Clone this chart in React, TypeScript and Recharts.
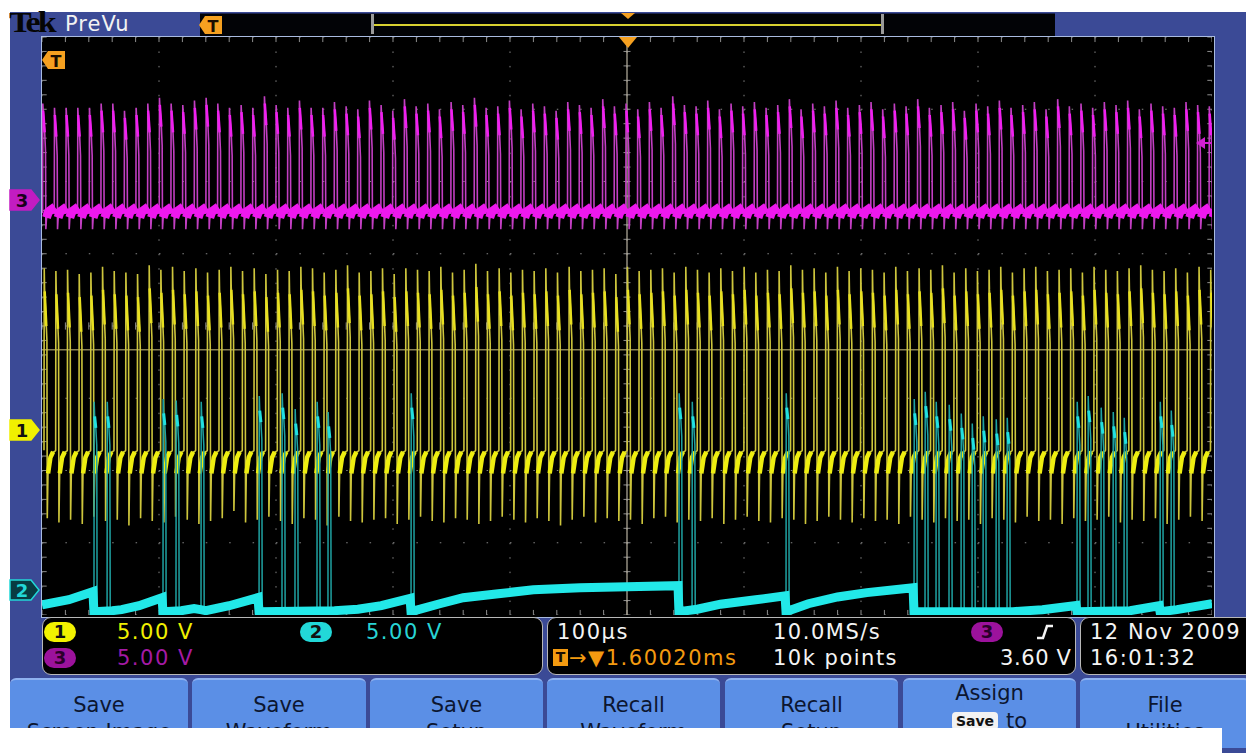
import React from 'react';
import { LineChart, Line, XAxis, YAxis, CartesianGrid, ReferenceLine } from 'recharts';

// time base: 100 µs/div, 10 divisions; vertical: 8 divisions, 5 V/div on every channel
const TIME_TICKS = [0, 100, 200, 300, 400, 500, 600, 700, 800, 900, 1000];
const DIV_TICKS = [-4, -3, -2, -1, 0, 1, 2, 3, 4];
const VOLTS_PER_DIV = 5;

// ground markers (divisions from screen centre)
const CH1_OFFSET = -1.44;
const CH2_OFFSET = -3.65;
const CH3_OFFSET = 1.74;

// switching pulses (ch1 and ch3 run on the same ~100 kHz clock)
const FIRST_PULSE_US = 1.7;
const PULSE_PERIOD_US = 9.97;

const CH1_PEAK_V = [
  11.2, 11.0, 11.1, 10.8, 10.9, 11.3, 11.0, 10.9, 10.8, 11.4,
  11.1, 11.3, 11.0, 11.2, 10.9, 11.1, 11.3, 11.0, 11.2, 10.8,
  11.1, 11.0, 11.3, 11.2, 10.9, 11.1, 11.4, 10.9, 11.0, 11.2,
  10.8, 11.2, 11.1, 11.0, 11.3, 10.9, 11.1, 11.5, 11.0, 11.2,
  10.9, 11.1, 11.0, 11.2, 10.9, 11.3, 11.0, 11.1, 11.2, 10.8,
  11.3, 11.0, 11.1, 11.2, 10.9, 11.3, 11.1, 10.9, 11.2, 11.0,
  11.3, 10.9, 11.1, 11.0, 11.4, 11.1, 11.2, 10.9, 11.3, 11.0,
  11.2, 11.1, 10.9, 11.3, 11.0, 11.2, 11.1, 11.4, 10.9, 11.2,
  11.0, 11.1, 11.3, 10.9, 11.2, 11.3, 11.0, 11.1, 11.2, 10.9,
  11.3, 11.1, 11.0, 11.2, 11.4, 11.1, 11.0, 11.2, 10.9, 11.3, 11.1,
];

const CH1_DIP_V = [
  -6.1, -6.4, -6.2, -6.5, -6.0, -6.3, -6.2, -6.6, -6.1, -6.3,
  -6.4, -6.0, -6.2, -6.5, -6.3, -6.1, -5.6, -6.4, -6.2, -6.0,
  -6.3, -6.5, -6.1, -6.2, -6.6, -6.0, -6.3, -6.4, -6.2, -6.1,
  -6.5, -6.2, -6.0, -6.3, -6.4, -6.1, -6.2, -6.5, -6.3, -6.0,
  -6.2, -6.4, -6.1, -6.3, -6.6, -6.2, -6.0, -6.4, -6.1, -6.3,
  -6.2, -6.5, -6.1, -6.0, -6.4, -6.2, -6.3, -6.1, -6.5, -6.2,
  -6.0, -6.3, -6.4, -6.1, -6.2, -6.5, -6.3, -6.0, -6.2, -6.4,
  -6.1, -6.3, -6.2, -6.5, -6.0, -6.2, -6.4, -6.1, -6.3, -6.2,
  -6.5, -6.1, -6.2, -6.4, -6.0, -6.3, -6.2, -6.5, -6.1, -6.3,
  -6.2, -6.0, -6.4, -6.2, -6.3, -6.1, -6.5, -6.2, -6.0, -6.3, -6.2,
];

const CH3_PEAK_V = [
  6.7, 6.4, 6.4, 6.4, 6.4, 6.7, 6.7, 6.2, 6.4, 6.7,
  7.1, 6.7, 6.6, 6.9, 7.1, 6.7, 6.4, 6.6, 6.4, 7.2,
  6.6, 6.4, 6.9, 6.4, 6.4, 6.8, 6.5, 6.3, 6.9, 6.6,
  6.2, 7.0, 6.5, 6.7, 6.3, 6.8, 6.6, 7.1, 6.4, 6.5,
  6.9, 6.3, 6.7, 6.5, 6.2, 6.8, 6.6, 6.4, 7.0, 6.5,
  6.7, 6.3, 6.8, 6.4, 7.2, 6.6, 6.5, 6.9, 6.3, 6.7,
  6.5, 6.8, 6.4, 6.6, 7.0, 6.3, 6.7, 6.5, 6.9, 6.4,
  6.6, 6.8, 6.3, 6.7, 6.5, 7.0, 6.4, 6.6, 6.8, 6.2,
  6.7, 6.5, 6.9, 6.4, 6.6, 6.8, 6.3, 7.0, 6.5, 6.7,
  6.4, 6.8, 6.6, 6.9, 6.3, 6.7, 6.5, 6.4, 6.8, 6.6, 6.5,
];

// ch2: slow RC baseline (µs, V) and bursts of spikes (µs, peak V)
const CH2_BASE_T = [0, 23, 43.5, 44.4, 60, 68, 83, 102.6, 103.4, 119, 130, 135.5, 140, 160, 184.6, 185.5, 250, 270, 290, 314.6, 315.4, 340, 360, 390, 420, 460, 500, 543.6, 544.4, 560, 580, 610, 635.1, 635.9, 655, 680, 705, 744.5, 745.3, 830, 855, 883.8, 884.6, 930, 954.8, 955.6, 970, 1000];
const CH2_BASE_V = [-1.04, -0.69, -0.14, -1.52, -1.45, -1.38, -1.11, -0.55, -1.52, -1.45, -1.3, -1.38, -1.45, -1.11, -0.55, -1.52, -1.45, -1.35, -1.1, -0.6, -1.52, -0.97, -0.55, -0.28, 0.0, 0.14, 0.21, 0.28, -1.52, -1.35, -1.0, -0.7, -0.42, -1.52, -0.97, -0.5, -0.2, 0.14, -1.52, -1.52, -1.38, -1.1, -1.52, -1.45, -1.11, -1.52, -1.38, -0.97];
const CH2_SPIKE_T = [44.4, 55.6, 103.4, 114.5, 135.9, 185.5, 205.1, 216.2, 235, 244.4, 315.4, 544.4, 555.6, 635.9, 745.3, 754.7, 764.1, 775.2, 785.5, 794.9, 804.3, 815.4, 824.8, 884.6, 894, 905.1, 915.4, 924.8, 955.6, 965];
const CH2_SPIKE_V = [13.0, 13.0, 13.2, 13.1, 13.0, 13.4, 13.6, 12.5, 13.0, 12.3, 13.6, 13.6, 13.0, 13.6, 13.2, 13.7, 13.0, 12.8, 12.2, 11.5, 12.0, 11.8, 11.9, 13.0, 13.4, 12.6, 12.3, 11.9, 13.0, 12.4];

const CH2_LOW_V = -1.52;
const CURSOR_DIV = -0.33;

type Pt = { t: number; v: number | null };

const toDiv = (offset: number, volts: number) => offset + volts / VOLTS_PER_DIV;
const GAP = (t: number): Pt => ({ t, v: null });

function buildCh1() {
  const thin: Pt[] = [];
  const top: Pt[] = [];
  const base: Pt[] = [];
  CH1_PEAK_V.forEach((p, k) => {
    const t0 = FIRST_PULSE_US + k * PULSE_PERIOD_US;
    const d = CH1_DIP_V[k];
    const pts: [number, number][] = [
      [0, -1.4], [0.2, p], [0.5, p - 1.4], [2.1, p - 4.2], [2.5, p - 5.0], [2.8, d],
      [3.4, -3.1], [4.2, -2.5], [6.2, -1.6], [9.7, -1.45],
    ];
    pts.forEach(([dt, v]) => thin.push({ t: t0 + dt, v: toDiv(CH1_OFFSET, v) }));
    top.push({ t: t0 + 0.6, v: toDiv(CH1_OFFSET, p - 1.6) }, { t: t0 + 2.0, v: toDiv(CH1_OFFSET, p - 4.0) }, GAP(t0 + 2.3));
    base.push({ t: t0 + 3.5, v: toDiv(CH1_OFFSET, -3.0) }, { t: t0 + 5.5, v: toDiv(CH1_OFFSET, -1.9) }, { t: t0 + 7.8, v: toDiv(CH1_OFFSET, -1.5) }, GAP(t0 + 8.5));
  });
  return { thin, top, base };
}

function buildCh3() {
  const thin: Pt[] = [];
  const top: Pt[] = [];
  const base: Pt[] = [];
  CH3_PEAK_V.forEach((p, k) => {
    const t0 = FIRST_PULSE_US - 1.2 + k * PULSE_PERIOD_US;
    const pts: [number, number][] = [
      [0, -0.9], [0.2, p], [0.5, p - 0.5], [1.8, p - 2.0], [2.5, p - 3.3], [2.8, -2.0],
      [3.3, -1.3], [5.0, -0.8], [7.5, -0.6], [9.7, -0.9],
    ];
    pts.forEach(([dt, v]) => thin.push({ t: t0 + dt, v: toDiv(CH3_OFFSET, v) }));
    top.push({ t: t0 + 0.5, v: toDiv(CH3_OFFSET, p - 0.5) }, { t: t0 + 1.8, v: toDiv(CH3_OFFSET, p - 2.0) }, GAP(t0 + 2.0));
    base.push({ t: t0 + 3.3, v: toDiv(CH3_OFFSET, -1.2) }, { t: t0 + 5.0, v: toDiv(CH3_OFFSET, -0.8) }, { t: t0 + 7.5, v: toDiv(CH3_OFFSET, -0.65) }, { t: t0 + 9.5, v: toDiv(CH3_OFFSET, -0.9) }, GAP(t0 + 9.6));
  });
  return { thin, top, base };
}

function buildCh2() {
  const thin: Pt[] = CH2_BASE_T.map((t, i) => ({ t, v: toDiv(CH2_OFFSET, CH2_BASE_V[i]) }));
  const top: Pt[] = [];
  CH2_SPIKE_T.forEach((ts, i) => {
    const p = CH2_SPIKE_V[i];
    const pts: [number, number][] = [
      [0.01, CH2_LOW_V], [0.2, p], [0.6, p - 1.0], [1.6, p - 1.8], [2.4, p - 3.0], [2.7, CH2_LOW_V],
    ];
    pts.forEach(([dt, v]) => thin.push({ t: ts + dt, v: toDiv(CH2_OFFSET, v) }));
    top.push({ t: ts + 0.6, v: toDiv(CH2_OFFSET, p - 1.0) }, { t: ts + 1.6, v: toDiv(CH2_OFFSET, p - 1.8) }, GAP(ts + 1.8));
  });
  thin.sort((a, b) => a.t - b.t);
  const band: Pt[] = CH2_BASE_T.map((t, i) => ({ t, v: toDiv(CH2_OFFSET, CH2_BASE_V[i]) }));
  return { thin, top, band };
}

const ch1 = buildCh1();
const ch2 = buildCh2();
const ch3 = buildCh3();

// graticule minor ticks (5 per division), built from the major ticks
const MINOR_T = TIME_TICKS.slice(0, -1).flatMap((t) => [0, 20, 40, 60, 80].map((d) => t + d)).concat([1000]);
const MINOR_DIV = DIV_TICKS.slice(0, -1).flatMap((v) => [0, 0.2, 0.4, 0.6, 0.8].map((d) => v + d)).concat([4]);

const TICK_COLOR = '#8e8e8e';

const FONT = '"DejaVu Sans", Verdana, sans-serif';

const Pill = ({ x, y, bg, label, fg = '#111' }: { x: number; y: number; bg: string; label: string; fg?: string }) => (
  <div style={{ position: 'absolute', left: x, top: y, width: 32, height: 20, borderRadius: 10, background: bg, color: fg, fontSize: 18, fontWeight: 'bold', textAlign: 'center', lineHeight: '20px' }}>{label}</div>
);

const ChannelFlag = ({ y, fill, stroke, label, fg }: { y: number; fill: string; stroke: string; label: string; fg: string }) => (
  <svg style={{ position: 'absolute', left: 9, top: y - 11 }} width={32} height={22}>
    <polygon points="1,1 22,1 30,11 22,21 1,21" fill={fill} stroke={stroke} strokeWidth={1.5} />
    <text x={13} y={18} textAnchor="middle" fontSize={18} fontWeight="bold" fill={fg} fontFamily={FONT}>{label}</text>
  </svg>
);

const TFlag = ({ x, y }: { x: number; y: number }) => (
  <svg style={{ position: 'absolute', left: x, top: y }} width={24} height={22}>
    <polygon points="0,11 6,2 23,2 23,20 6,20" fill="#f5a020" />
    <text x={14} y={18} textAnchor="middle" fontSize={16} fontWeight="bold" fill="#1a0d00" fontFamily={FONT}>T</text>
  </svg>
);

const BUTTONS = [
  { x: 10, w: 178, l1: 'Save', l2: 'Screen Image' },
  { x: 192, w: 174, l1: 'Save', l2: 'Waveform' },
  { x: 370, w: 173, l1: 'Save', l2: 'Setup' },
  { x: 547, w: 173, l1: 'Recall', l2: 'Waveform' },
  { x: 725, w: 173, l1: 'Recall', l2: 'Setup' },
  { x: 903, w: 173, l1: 'Assign', l2: '' },
  { x: 1080, w: 170, l1: 'File', l2: 'Utilities' },
];

const Txt = ({ x, y, color, children, size = 21, ls = 1.5 }: { x: number; y: number; color: string; children: React.ReactNode; size?: number; ls?: number }) => (
  <div style={{ position: 'absolute', left: x, top: y, color, fontSize: size, letterSpacing: ls, whiteSpace: 'nowrap', lineHeight: '24px' }}>{children}</div>
);

export default function App() {
  return (
    <div style={{ position: 'relative', width: 1246, height: 753, background: '#ffffff', overflow: 'hidden', fontFamily: FONT }}>
      <style>{'body{margin:0}'}</style>
      {/* bezel */}
      <div style={{ position: 'absolute', left: 10, top: 12, width: 1236, height: 741, background: '#3b4a96' }} />
      <div style={{ position: 'absolute', left: 9, top: 12, fontFamily: '"Liberation Serif", serif', fontWeight: 'bold', fontSize: 34, letterSpacing: -3, color: '#050505', lineHeight: '26px', transform: 'scaleY(0.85)', transformOrigin: 'top left' }}>Tek</div>
      <div style={{ position: 'absolute', left: 65, top: 11, fontSize: 21, color: '#f2f2f2', letterSpacing: 1, lineHeight: '26px' }}>PreVu</div>

      {/* record preview bar */}
      <div style={{ position: 'absolute', left: 200, top: 13, width: 855, height: 22, background: '#020306', borderTop: '1px solid #1c2450' }} />
      <div style={{ position: 'absolute', left: 373, top: 24, width: 509, height: 2, background: '#d8d030' }} />
      <div style={{ position: 'absolute', left: 371, top: 14, width: 3, height: 20, background: '#9a9a9a' }} />
      <div style={{ position: 'absolute', left: 881, top: 14, width: 3, height: 20, background: '#9a9a9a' }} />
      <svg style={{ position: 'absolute', left: 621, top: 13 }} width={14} height={8}><polygon points="0,0 14,0 7,6" fill="#f5a020" /></svg>
      <TFlag x={199} y={14} />

      {/* graticule */}
      <div style={{ position: 'absolute', left: 41, top: 36, width: 1172, height: 580, border: '1px solid #a9bbe0', background: '#000' }} />
      <div style={{ position: 'absolute', left: 42, top: 37 }}>
        <LineChart width={1170} height={578} margin={{ top: 0, right: 0, bottom: 0, left: 0 }}>
          <XAxis type="number" dataKey="t" domain={[0, 1000]} ticks={TIME_TICKS} allowDataOverflow hide />
          <YAxis type="number" domain={[-4, 4]} ticks={DIV_TICKS} allowDataOverflow hide />
          <CartesianGrid horizontal={false} stroke="#858585" strokeDasharray="1.5 12.95" />
          <CartesianGrid vertical={false} stroke="#858585" strokeDasharray="1.5 21.9" />
          {MINOR_T.map((t) => (
            <ReferenceLine key={'ct' + t} segment={[{ x: t, y: -0.05 }, { x: t, y: 0.05 }]} stroke={TICK_COLOR} />
          ))}
          {MINOR_T.map((t) => (
            <ReferenceLine key={'tt' + t} segment={[{ x: t, y: 4 }, { x: t, y: 3.93 }]} stroke={TICK_COLOR} />
          ))}
          {MINOR_T.map((t) => (
            <ReferenceLine key={'bt' + t} segment={[{ x: t, y: -4 }, { x: t, y: -3.93 }]} stroke={TICK_COLOR} />
          ))}
          {MINOR_DIV.map((v) => (
            <ReferenceLine key={'cv' + v} segment={[{ x: 497, y: v }, { x: 503, y: v }]} stroke={TICK_COLOR} />
          ))}
          {MINOR_DIV.map((v) => (
            <ReferenceLine key={'lv' + v} segment={[{ x: 0, y: v }, { x: 4, y: v }]} stroke={TICK_COLOR} />
          ))}
          {MINOR_DIV.map((v) => (
            <ReferenceLine key={'rv' + v} segment={[{ x: 996, y: v }, { x: 1000, y: v }]} stroke={TICK_COLOR} />
          ))}
          <ReferenceLine y={CURSOR_DIV} stroke="#8a8255" strokeWidth={1.5} />
          <ReferenceLine x={500} stroke="#b9b2a2" strokeWidth={1.2} />

          <Line data={ch3.thin} dataKey="v" type="linear" dot={false} stroke="#c23ec2" strokeWidth={1.6} isAnimationActive={false} />
          <Line data={ch3.base} dataKey="v" type="linear" dot={false} stroke="#ee18ee" strokeWidth={9} isAnimationActive={false} />
          <Line data={ch3.top} dataKey="v" type="linear" dot={false} stroke="#f020f0" strokeWidth={2.5} isAnimationActive={false} />

          <Line data={ch1.thin} dataKey="v" type="linear" dot={false} stroke="#cdc53c" strokeWidth={1.6} isAnimationActive={false} />
          <Line data={ch1.base} dataKey="v" type="linear" dot={false} stroke="#eeee10" strokeWidth={4.5} isAnimationActive={false} />
          <Line data={ch1.top} dataKey="v" type="linear" dot={false} stroke="#e8e020" strokeWidth={2.5} isAnimationActive={false} />

          <Line data={ch2.thin} dataKey="v" type="linear" dot={false} stroke="#1fa2a2" strokeWidth={1.5} isAnimationActive={false} />
          <Line data={ch2.band} dataKey="v" type="linear" dot={false} stroke="#22e8e8" strokeWidth={9} isAnimationActive={false} />
          <Line data={ch2.top} dataKey="v" type="linear" dot={false} stroke="#22e0e0" strokeWidth={3} isAnimationActive={false} />
        </LineChart>
      </div>

      {/* trigger markers */}
      <TFlag x={42} y={49} />
      <svg style={{ position: 'absolute', left: 619, top: 37 }} width={18} height={12}><polygon points="0,0 18,0 9,11" fill="#f5a020" /></svg>
      <svg style={{ position: 'absolute', left: 1196, top: 137 }} width={16} height={12}>
        <polygon points="0,6 9,0 9,12" fill="#d020d0" />
        <rect x={8} y={5} width={8} height={2} fill="#d020d0" />
      </svg>

      {/* channel ground flags */}
      <ChannelFlag y={200} fill="#c21cc2" stroke="#c21cc2" label="3" fg="#1a001a" />
      <ChannelFlag y={430} fill="#f0f000" stroke="#f0f000" label="1" fg="#111" />
      <ChannelFlag y={590} fill="#083c42" stroke="#22d8d8" label="2" fg="#22d8d8" />

      {/* readouts */}
      <div style={{ position: 'absolute', left: 42, top: 617, width: 499, height: 56, background: '#000', border: '1.5px solid #b8b8b8', borderRadius: 9 }} />
      <div style={{ position: 'absolute', left: 547, top: 617, width: 527, height: 56, background: '#000', border: '1.5px solid #b8b8b8', borderRadius: 9 }} />
      <div style={{ position: 'absolute', left: 1080, top: 617, width: 180, height: 56, background: '#000', border: '1.5px solid #b8b8b8', borderRadius: 9 }} />

      <Pill x={44} y={622} bg="#f2f200" label="1" />
      <Txt x={117} y={620} color="#f0f000">5.00 V</Txt>
      <Pill x={300} y={622} bg="#22d8d8" label="2" />
      <Txt x={366} y={620} color="#28d4d4">5.00 V</Txt>
      <Pill x={44} y={648} bg="#9c129c" label="3" fg="#2a002a" />
      <Txt x={117} y={646} color="#a41aa4">5.00 V</Txt>

      <Txt x={557} y={620} color="#f4f4f4">100µs</Txt>
      <Txt x={773} y={620} color="#f4f4f4">10.0MS/s</Txt>
      <Pill x={971} y={622} bg="#9c129c" label="3" fg="#2a002a" />
      <svg style={{ position: 'absolute', left: 1036, top: 623 }} width={18} height={18}>
        <polyline points="1,15 7,15 11,3 17,3" fill="none" stroke="#f4f4f4" strokeWidth={2.5} />
      </svg>
      <div style={{ position: 'absolute', left: 553, top: 649, width: 15, height: 17, background: '#f39a10', color: '#1a0d00', fontSize: 14, fontWeight: 'bold', textAlign: 'center', lineHeight: '17px' }}>T</div>
      <Txt x={569} y={646} color="#f39a10">→▼1.60020ms</Txt>
      <Txt x={773} y={646} color="#f4f4f4">10k points</Txt>
      <Txt x={1000} y={646} color="#f4f4f4" ls={0.6}>3.60 V</Txt>

      <Txt x={1090} y={620} color="#f4f4f4">12 Nov 2009</Txt>
      <Txt x={1090} y={646} color="#f4f4f4">16:01:32</Txt>

      {/* soft-key menu */}
      {BUTTONS.map((b) => (
        <div key={b.x} style={{ position: 'absolute', left: b.x, top: 678, width: b.w, height: 70, background: '#5b8fe6', borderTop: '2px solid #8fb2f0', borderRadius: '6px 6px 0 0', color: '#0c1630', fontSize: 21, textAlign: 'center', lineHeight: '27px', paddingTop: b.l1 === 'Assign' ? 0 : 12, boxSizing: 'border-box' }}>
          <div>{b.l1}</div>
          {b.l2 ? <div>{b.l2}</div> : (
            <div style={{ whiteSpace: 'nowrap' }}>
              <span style={{ display: 'inline-block', background: '#f2f2f2', color: '#111', fontSize: 14, fontWeight: 'bold', borderRadius: 4, padding: '0 4px', lineHeight: '18px', marginRight: 8, verticalAlign: 'middle' }}>Save</span>
              <span style={{ verticalAlign: 'middle' }}>to</span>
            </div>
          )}
        </div>
      ))}

      {/* white strip under the capture */}
      <div style={{ position: 'absolute', left: 0, top: 728, width: 1222, height: 25, background: '#ffffff' }} />
    </div>
  );
}
